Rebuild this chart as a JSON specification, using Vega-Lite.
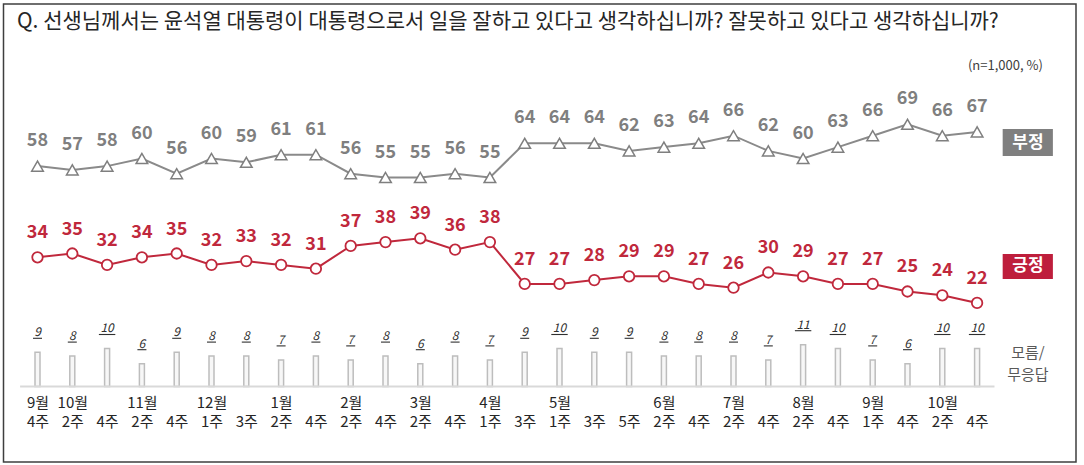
{
  "$schema": "https://vega.github.io/schema/vega-lite/v6.json",
  "width": 1072.5,
  "height": 458,
  "autosize": "none",
  "padding": {"left": 3.5, "top": 4, "right": 8, "bottom": 3},
  "background": "white",
  "config": {
    "font": "Noto Sans CJK KR",
    "view": {"stroke": "#3f3f3f", "strokeWidth": 1.5}
  },
  "data": {
    "values": [
      {"i": 1, "neg": 58, "pos": 34, "unk": 9},
      {"i": 2, "neg": 57, "pos": 35, "unk": 8},
      {"i": 3, "neg": 58, "pos": 32, "unk": 10},
      {"i": 4, "neg": 60, "pos": 34, "unk": 6},
      {"i": 5, "neg": 56, "pos": 35, "unk": 9},
      {"i": 6, "neg": 60, "pos": 32, "unk": 8},
      {"i": 7, "neg": 59, "pos": 33, "unk": 8},
      {"i": 8, "neg": 61, "pos": 32, "unk": 7},
      {"i": 9, "neg": 61, "pos": 31, "unk": 8},
      {"i": 10, "neg": 56, "pos": 37, "unk": 7},
      {"i": 11, "neg": 55, "pos": 38, "unk": 8},
      {"i": 12, "neg": 55, "pos": 39, "unk": 6},
      {"i": 13, "neg": 56, "pos": 36, "unk": 8},
      {"i": 14, "neg": 55, "pos": 38, "unk": 7},
      {"i": 15, "neg": 64, "pos": 27, "unk": 9},
      {"i": 16, "neg": 64, "pos": 27, "unk": 10},
      {"i": 17, "neg": 64, "pos": 28, "unk": 9},
      {"i": 18, "neg": 62, "pos": 29, "unk": 9},
      {"i": 19, "neg": 63, "pos": 29, "unk": 8},
      {"i": 20, "neg": 64, "pos": 27, "unk": 8},
      {"i": 21, "neg": 66, "pos": 26, "unk": 8},
      {"i": 22, "neg": 62, "pos": 30, "unk": 7},
      {"i": 23, "neg": 60, "pos": 29, "unk": 11},
      {"i": 24, "neg": 63, "pos": 27, "unk": 10},
      {"i": 25, "neg": 66, "pos": 27, "unk": 7},
      {"i": 26, "neg": 69, "pos": 25, "unk": 6},
      {"i": 27, "neg": 66, "pos": 24, "unk": 10},
      {"i": 28, "neg": 67, "pos": 22, "unk": 10}
    ]
  },
  "encoding": {
    "x": {
      "field": "i",
      "type": "quantitative",
      "scale": {"domain": [0.023, 30.842], "nice": false, "zero": false, "padding": 0},
      "axis": {
        "title": null,
        "values": [1,2,3,4,5,6,7,8,9,10,11,12,13,14,15,16,17,18,19,20,21,22,23,24,25,26,27,28],
        "labelExpr": "[['9월','4주'],['10월','2주'],[' ','4주'],['11월','2주'],[' ','4주'],['12월','1주'],[' ','3주'],['1월','2주'],[' ','4주'],['2월','2주'],[' ','4주'],['3월','2주'],[' ','4주'],['4월','1주'],[' ','3주'],['5월','1주'],[' ','3주'],[' ','5주'],['6월','2주'],[' ','4주'],['7월','2주'],[' ','4주'],['8월','2주'],[' ','4주'],['9월','1주'],[' ','4주'],['10월','2주'],[' ','4주']][datum.value-1]",
        "offset": -75.5,
        "domain": false,
        "ticks": false,
        "grid": false,
        "labelOverlap": false,
        "labelFlush": false,
        "labelBound": false,
        "labelPadding": 9,
        "labelFontSize": 15,
        "labelLineHeight": 19,
        "labelColor": "#262626"
      }
    }
  },
  "layer": [
    {
      "mark": {"type": "bar", "size": 5, "fill": "#f7f7f7", "stroke": "#bdbdbd", "strokeWidth": 1.5},
      "encoding": {
        "y": {"field": "unk", "type": "quantitative", "scale": {"domain": [-19.87, 100.66], "nice": false, "zero": false, "padding": 0}, "axis": null}
      }
    },
    {
      "data": {"values": [{"i": 0.5, "i2": 28.5, "v": 0}]},
      "mark": {"type": "rule", "color": "#d9d9d9", "strokeWidth": 2},
      "encoding": {
        "x2": {"field": "i2"},
        "y": {"field": "v", "type": "quantitative", "axis": null}
      }
    },
    {
      "mark": {"type": "text", "dy": -20, "baseline": "middle", "fontSize": 12, "fontStyle": "italic", "color": "#303030"},
      "encoding": {
        "y": {"field": "unk", "type": "quantitative", "axis": null},
        "text": {"field": "unk", "type": "quantitative"}
      }
    },
    {
      "mark": {"type": "point", "shape": "M-1,0H1", "filled": false, "stroke": "#303030", "strokeWidth": 1.1, "opacity": 1, "yOffset": -14},
      "encoding": {
        "y": {"field": "unk", "type": "quantitative", "axis": null},
        "size": {"condition": {"test": "datum.unk >= 10", "value": 270}, "value": 81}
      }
    },
    {
      "mark": {"type": "line", "color": "#8a8a8a", "strokeWidth": 2},
      "encoding": {
        "y": {"field": "neg", "type": "quantitative", "axis": null}
      }
    },
    {
      "mark": {"type": "point", "shape": "triangle-up", "size": 135, "filled": true, "fill": "white", "stroke": "#7f7f7f", "strokeWidth": 1.5, "opacity": 1},
      "encoding": {
        "y": {"field": "neg", "type": "quantitative", "axis": null}
      }
    },
    {
      "mark": {"type": "text", "dy": -25, "baseline": "middle", "fontSize": 18, "fontWeight": "bold", "color": "#7f7f7f"},
      "encoding": {
        "y": {"field": "neg", "type": "quantitative", "axis": null},
        "text": {"field": "neg", "type": "quantitative"}
      }
    },
    {
      "mark": {"type": "line", "color": "#c0283c", "strokeWidth": 2},
      "encoding": {
        "y": {"field": "pos", "type": "quantitative", "axis": null}
      }
    },
    {
      "mark": {"type": "point", "shape": "circle", "size": 110, "filled": true, "fill": "white", "stroke": "#c0283c", "strokeWidth": 1.8, "opacity": 1},
      "encoding": {
        "y": {"field": "pos", "type": "quantitative", "axis": null}
      }
    },
    {
      "mark": {"type": "text", "dy": -24, "baseline": "middle", "fontSize": 18, "fontWeight": "bold", "color": "#c0283c"},
      "encoding": {
        "y": {"field": "pos", "type": "quantitative", "axis": null},
        "text": {"field": "pos", "type": "quantitative"}
      }
    },
    {
      "data": {"values": [
        {"label": "부정", "c": "#7f7f7f", "i": 28.735, "i2": 30.178, "y1": 67.77, "y2": 60.66},
        {"label": "긍정", "c": "#be1e3c", "i": 28.735, "i2": 30.178, "y1": 34.87, "y2": 28.29}
      ]},
      "mark": {"type": "rect"},
      "encoding": {
        "x2": {"field": "i2"},
        "y": {"field": "y1", "type": "quantitative", "axis": null},
        "y2": {"field": "y2"},
        "color": {"field": "c", "type": "nominal", "scale": null}
      }
    },
    {
      "data": {"values": [
        {"label": "부정", "i": 29.46, "ym": 64.2},
        {"label": "긍정", "i": 29.46, "ym": 31.58}
      ]},
      "mark": {"type": "text", "fontSize": 17, "fontWeight": "bold", "color": "white", "baseline": "middle", "align": "center"},
      "encoding": {
        "y": {"field": "ym", "type": "quantitative", "axis": null},
        "text": {"field": "label", "type": "nominal"}
      }
    },
    {
      "data": {"values": [
        {"t": "Q. 선생님께서는 윤석열 대통령이 대통령으로서 일을 잘하고 있다고 생각하십니까? 잘못하고 있다고 생각하십니까?", "i": 0.411, "y": 95.92}
      ]},
      "mark": {"type": "text", "fontSize": 21, "color": "#262626", "baseline": "middle", "align": "left"},
      "encoding": {
        "y": {"field": "y", "type": "quantitative", "axis": null},
        "text": {"field": "t", "type": "nominal"}
      }
    },
    {
      "data": {"values": [
        {"t": "(n=1,000,  %)", "i": 29.89, "y": 84.3}
      ]},
      "mark": {"type": "text", "fontSize": 13, "color": "#404040", "baseline": "middle", "align": "right"},
      "encoding": {
        "y": {"field": "y", "type": "quantitative", "axis": null},
        "text": {"field": "t", "type": "nominal"}
      }
    },
    {
      "data": {"values": [
        {"i": 29.46, "y": 8.8}
      ]},
      "mark": {"type": "text", "fontSize": 15, "lineHeight": 22, "color": "#595959", "baseline": "middle", "align": "center"},
      "encoding": {
        "y": {"field": "y", "type": "quantitative", "axis": null},
        "text": {"value": ["모름/", "무응답"]}
      }
    }
  ]
}
